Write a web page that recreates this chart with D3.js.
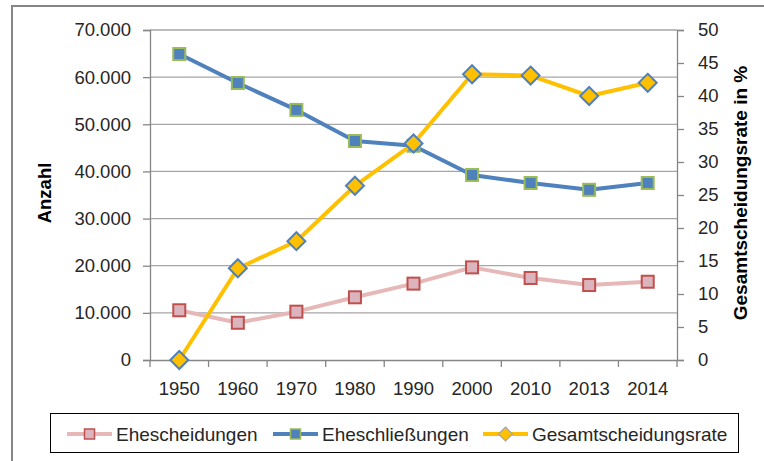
<!DOCTYPE html>
<html>
<head>
<meta charset="utf-8">
<script src="https://cdn.jsdelivr.net/npm/d3@7"></script>
<style>
  body { margin: 0; background: #fff; }
  svg { display: block; font-family: "Liberation Sans", Arial, sans-serif; }
</style>
</head>
<body>
<svg id="chart" width="764" height="461"></svg>
<script>
// data
let years = ['1950', '1960', '1970', '1980', '1990', '2000', '2010', '2013', '2014'];
let scheidungen = [10550, 7900, 10250, 13300, 16200, 19650, 17400, 15900, 16600];
let schliessungen = [64900, 58750, 53050, 46450, 45450, 39250, 37550, 36100, 37550];
let rate = [0, 13.9, 18.0, 26.4, 32.8, 43.3, 43.1, 40.0, 42.0];
let leftTicks = [0, 10000, 20000, 30000, 40000, 50000, 60000, 70000];
let rightTicks = [0, 5, 10, 15, 20, 25, 30, 35, 40, 45, 50];
let legendNames = ['Ehescheidungen', 'Eheschließungen', 'Gesamtscheidungsrate'];

let svg = d3.select('#chart');
let plotL = 150, plotR = 677, plotT = 30, plotB = 360;
let deFmt = d3.formatLocale({ decimal: ',', thousands: '.', grouping: [3], currency: ['', '€'] }).format(',d');

let xScale = d3.scaleBand().domain(years).range([plotL, plotR]).padding(0);
let yLeft = d3.scaleLinear().domain([0, 70000]).range([plotB, plotT]);
let yRight = d3.scaleLinear().domain([0, 50]).range([plotB, plotT]);
let cx = d => xScale(d) + xScale.bandwidth() / 2;

// outer frame
svg.append('rect')
	.attr('x', 12).attr('y', 6)
	.attr('width', 800).attr('height', 500)
	.attr('fill', 'none')
	.attr('stroke', '#868686')
	.attr('stroke-width', 2);

// gridlines
svg.append('g')
	.selectAll('line')
	.data(leftTicks.slice(1))
	.join('line')
	.attr('x1', plotL).attr('x2', plotR)
	.attr('y1', d => yLeft(d)).attr('y2', d => yLeft(d))
	.attr('stroke', '#a6a6a6')
	.attr('stroke-width', 1.3);

// axes
let axisLeft = svg.append('g')
	.attr('transform', `translate(${plotL},0)`)
	.call(d3.axisLeft(yLeft).tickValues(leftTicks).tickFormat(deFmt).tickSize(7).tickPadding(12));
let axisRight = svg.append('g')
	.attr('transform', `translate(${plotR},0)`)
	.call(d3.axisRight(yRight).tickValues(rightTicks).tickSize(7).tickPadding(14));
let axisBottom = svg.append('g')
	.attr('transform', `translate(0,${plotB})`)
	.call(d3.axisBottom(xScale).tickSize(0).tickPadding(22));

// category boundary ticks
svg.append('g')
	.selectAll('line')
	.data(years.concat(['end']))
	.join('line')
	.attr('x1', (d, i) => i < years.length ? xScale(d) : plotR)
	.attr('x2', (d, i) => i < years.length ? xScale(d) : plotR)
	.attr('y1', plotB).attr('y2', plotB + 7)
	.attr('stroke', '#868686')
	.attr('stroke-width', 1.3);

[axisLeft, axisRight, axisBottom].forEach(a => {
	a.select('.domain').attr('stroke', '#868686').attr('stroke-width', 1.3);
	a.selectAll('.tick line').attr('stroke', '#868686').attr('stroke-width', 1.3);
	a.selectAll('.tick text')
		.attr('fill', '#262626')
		.style('font-size', '18.5px')
		.style('font-family', '"Liberation Sans", Arial, sans-serif');
});
axisBottom.select('.domain').attr('d', `M${plotL},0.5H${plotR}`);

// axis titles
svg.append('text')
	.attr('transform', 'translate(51,193) rotate(-90)')
	.attr('text-anchor', 'middle')
	.style('font-size', '18.5px')
	.style('font-weight', 'bold')
	.text('Anzahl');
svg.append('text')
	.attr('transform', 'translate(747,193) rotate(-90)')
	.attr('text-anchor', 'middle')
	.style('font-size', '19px')
	.style('font-weight', 'bold')
	.text('Gesamtscheidungsrate in %');

// series styles
let series = [
	{ name: legendNames[0], values: scheidungen, y: yLeft, line: '#e6b9b8', fill: '#dcb4bd', edge: '#c0504d', shape: 'square' },
	{ name: legendNames[1], values: schliessungen, y: yLeft, line: '#4f81bd', fill: '#4f81bd', edge: '#9bbb59', shape: 'square' },
	{ name: legendNames[2], values: rate, y: yRight, line: '#ffc000', fill: '#ffc000', edge: '#4f81bd', shape: 'diamond' }
];

function drawMarker(g, shape, x, y, s) {
	if (shape === 'square') {
		g.append('rect')
			.attr('x', x - 6).attr('y', y - 6)
			.attr('width', 12).attr('height', 12)
			.attr('fill', s.fill).attr('stroke', s.edge).attr('stroke-width', 2);
	} else {
		g.append('path')
			.attr('d', `M${x},${y - 9}L${x + 9},${y}L${x},${y + 9}L${x - 9},${y}Z`)
			.attr('fill', s.fill).attr('stroke', s.edge).attr('stroke-width', 2);
	}
}

series.forEach(s => {
	let g = svg.append('g');
	let line = d3.line()
		.x((d, i) => cx(years[i]))
		.y(d => s.y(d));
	g.append('path')
		.attr('d', line(s.values))
		.attr('fill', 'none')
		.attr('stroke', s.line)
		.attr('stroke-width', 4)
		.attr('stroke-linejoin', 'round');
	s.values.forEach((v, i) => drawMarker(g, s.shape, cx(years[i]), s.y(v), s));
});

// legend
svg.append('rect')
	.attr('x', 50.5).attr('y', 413.5)
	.attr('width', 688).attr('height', 39)
	.attr('fill', '#fff')
	.attr('stroke', '#000')
	.attr('stroke-width', 1);
let legendX = [67, 273, 483];
series.forEach((s, i) => {
	let g = svg.append('g');
	let x0 = legendX[i], ly = 434;
	g.append('line')
		.attr('x1', x0).attr('x2', x0 + 45)
		.attr('y1', ly).attr('y2', ly)
		.attr('stroke', s.line).attr('stroke-width', 4);
	if (s.shape === 'square') {
		g.append('rect')
			.attr('x', x0 + 22.5 - 5).attr('y', ly - 5)
			.attr('width', 10).attr('height', 10)
			.attr('fill', s.fill).attr('stroke', s.edge).attr('stroke-width', 1.5);
	} else {
		g.append('path')
			.attr('d', `M${x0 + 22.5},${ly - 7}L${x0 + 29.5},${ly}L${x0 + 22.5},${ly + 7}L${x0 + 15.5},${ly}Z`)
			.attr('fill', s.fill).attr('stroke', '#a6a6a6').attr('stroke-width', 1.2);
	}
	g.append('text')
		.attr('x', x0 + 49).attr('y', ly + 6.5)
		.attr('fill', '#262626')
		.style('font-size', '19px')
		.text(s.name);
});
</script>
</body>
</html>
